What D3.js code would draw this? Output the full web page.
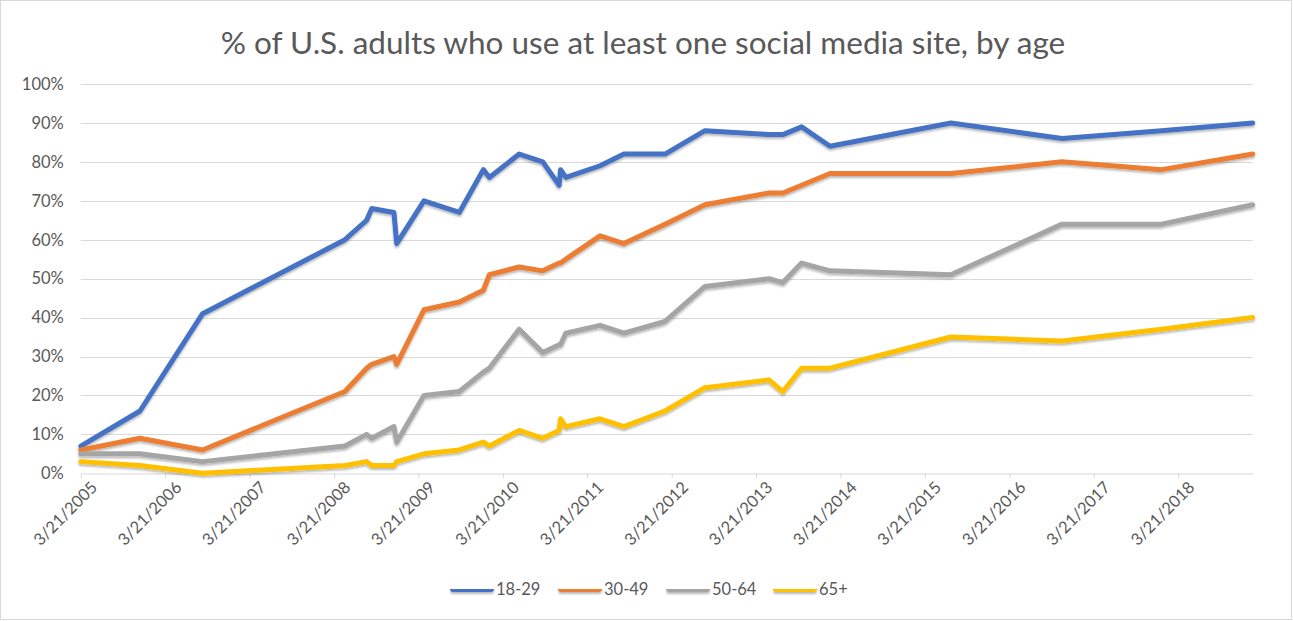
<!DOCTYPE html>
<html><head><meta charset="utf-8">
<script src="https://cdn.jsdelivr.net/npm/d3@7"></script>
<style>
body{margin:0;background:#fff;}
svg{display:block;}
text{font-family:Lato,"Open Sans",sans-serif;fill:#595959;}
</style>
</head><body>
<svg id="chart" width="1293" height="621"></svg>
<script>
const title = "% of U.S. adults who use at least one social media site, by age";
const dates = ["2005-03-21","2005-12-02","2006-08-30","2008-05-07","2008-08-09","2008-08-31","2008-12-05","2008-12-17","2009-04-14","2009-09-14","2009-12-27","2010-01-22","2010-05-31","2010-09-10","2010-11-20","2010-11-26","2010-12-19","2011-05-16","2011-08-27","2012-02-21","2012-08-12","2013-05-16","2013-07-15","2013-10-04","2014-02-04","2015-07-12","2016-11-04","2018-01-09","2019-02-07"];
const seriesNames = ["18-29","30-49","50-64","65+"];
const age18_29 = [7,16,41,60,65,68,67,59,70,67,78,76,82,80,74,78,76,79,82,82,88,87,87,89,84,90,86,88,90];
const age30_49 = [6,9,6,21,27,28,30,28,42,44,47,51,53,52,54,54,55,61,59,64,69,72,72,74,77,77,80,78,82];
const age50_64 = [5,5,3,7,10,9,12,8,20,21,26,27,37,31,33,33,36,38,36,39,48,50,49,54,52,51,64,64,69];
const age65plus = [3,2,0,2,3,2,2,3,5,6,8,7,11,9,11,14,12,14,12,16,22,24,21,27,27,35,34,37,40];
const yTickValues = [0,10,20,30,40,50,60,70,80,90,100];
const xTickDates = ["2005-03-21","2006-03-21","2007-03-21","2008-03-21","2009-03-21","2010-03-21","2011-03-21","2012-03-21","2013-03-21","2014-03-21","2015-03-21","2016-03-21","2017-03-21","2018-03-21"];
const colors = ["#4472C4","#ED7D31","#A5A5A5","#FFC000"];

const parse = d3.timeParse("%Y-%m-%d");
const fmt = d3.timeFormat("%-m/%-d/%Y");
const D = dates.map(parse);
const allSeries = [age18_29, age30_49, age50_64, age65plus];

const svg = d3.select("#chart");
const defs = svg.append("defs");
const f = defs.append("filter").attr("id","sh").attr("filterUnits","userSpaceOnUse")
  .attr("x",0).attr("y",0).attr("width",1293).attr("height",621);
f.append("feDropShadow").attr("dx",0).attr("dy",2).attr("stdDeviation",1.3).attr("flood-color","#000").attr("flood-opacity",0.28);

svg.append("rect").attr("x",0.5).attr("y",0.5).attr("width",1291).attr("height",619)
  .attr("fill","#fff").attr("stroke","#d9d9d9");

const x = d3.scaleTime().domain([D[0], D[D.length-1]]).range([80.8, 1252.7]);
const y = d3.scaleLinear().domain([0,100]).range([473.3, 84]);

// gridlines
svg.append("g").selectAll("line").data(yTickValues.filter(v=>v>0)).join("line")
  .attr("x1",80.8).attr("x2",1252.7)
  .attr("y1",d=>Math.round(y(d))+0.5).attr("y2",d=>Math.round(y(d))+0.5)
  .attr("stroke","#d9d9d9").attr("stroke-width",1);

// y axis labels
const yAxis = d3.axisLeft(y).tickValues(yTickValues).tickFormat(d=>d+"%").tickSize(0).tickPadding(17);
const gy = svg.append("g").attr("transform","translate(80.8,0)").call(yAxis);
gy.select(".domain").remove();
gy.selectAll("text").attr("font-size",16.5).attr("fill","#595959").style("font-family","Lato");

// x axis
const xAxis = d3.axisBottom(x).tickValues(xTickDates.map(parse)).tickFormat(fmt).tickSize(5).tickSizeOuter(0);
const gx = svg.append("g").attr("transform","translate(0,473.5)").call(xAxis);
gx.select(".domain").attr("stroke","#d9d9d9").attr("stroke-width",1.2);
gx.selectAll(".tick line").attr("stroke","#d9d9d9");
gx.selectAll("text").attr("font-size",16.5).attr("fill","#595959").style("font-family","Lato")
  .attr("text-anchor","end").attr("transform","translate(6,4) rotate(-45)").attr("dy","0.7em").attr("y",4);

// lines
const line = d3.line().x((d,i)=>x(D[i])).y(d=>y(d));
svg.append("g").attr("filter","url(#sh)").selectAll("path").data(allSeries).join("path")
  .attr("d",line).attr("fill","none")
  .attr("stroke",(d,i)=>colors[i]).attr("stroke-width",5)
  .attr("stroke-linejoin","round").attr("stroke-linecap","round");

// title
svg.append("text").attr("x",643).attr("y",54).attr("text-anchor","middle")
  .attr("font-size",31.5).text(title);

// legend
const legX = [450, 558, 666, 773];
const lg = svg.append("g").selectAll("g").data(seriesNames).join("g")
  .attr("transform",(d,i)=>`translate(${legX[i]},589)`);
lg.append("rect").attr("x",0).attr("y",-3).attr("width",44).attr("height",6).attr("rx",3)
  .attr("fill",(d,i)=>colors[i]).attr("filter","url(#sh)");
lg.append("text").attr("x",46).attr("y",0).attr("dy","0.35em").attr("font-size",16.5).text(d=>d);
</script>
</body></html>
